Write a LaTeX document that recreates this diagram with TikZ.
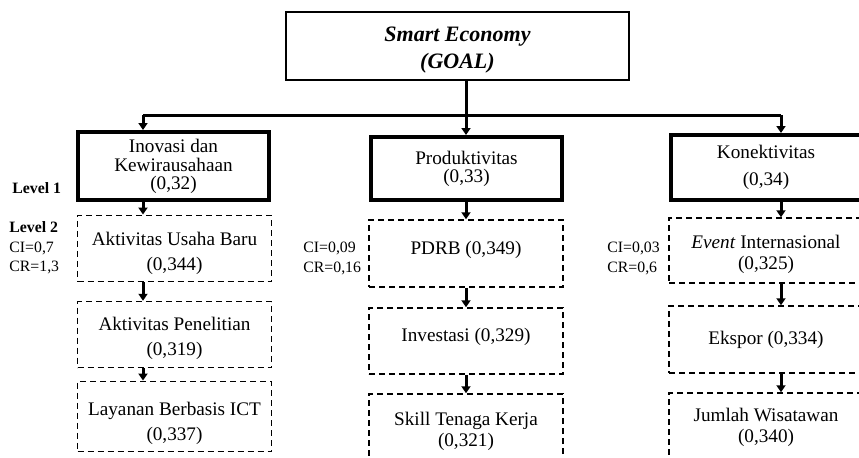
\documentclass[tikz,border=0pt]{standalone}
\usepackage{fontspec}
\setmainfont{Liberation Serif}
\usetikzlibrary{calc, positioning, arrows.meta}
\newcommand{\lift}[1]{\rule{0pt}{#1}}

\begin{document}
\begin{tikzpicture}[x=0.5pt, y=-0.5pt, font=\fontsize{9.6}{10.5}\selectfont,
	goal/.style={draw, line width=0.75pt, minimum width=171.5pt, minimum height=33pt, align=center,
		font=\fontsize{11}{13.5}\selectfont\bfseries\itshape},
	crit/.style={draw, line width=2pt, minimum width=95.5pt, minimum height=32.5pt, align=center, inner sep=1pt},
	sub/.style={draw, dash pattern=on 3pt off 2pt, line width=0.75pt, minimum width=97pt, minimum height=33pt, align=center},
	lvl/.style={anchor=west, inner sep=0pt, align=left, font=\fontsize{7.9}{9.5}\selectfont},
	l_1/.style={line width=1.5pt},
	l_a/.style={line width=1.5pt, -{Triangle[width=4.5pt,length=3.5pt]}}]
	\clip (0,0) rectangle (859,457);
	\useasboundingbox (0,0) rectangle (859,457);
	% goal and criteria
	\node[goal] (goal) at (457.5,46) {\lift{11.5pt}Smart Economy\\(GOAL)};
	\node[crit, minimum height=34pt] (inov) at (173.5,166) {Inovasi dan\\[-1pt] Kewirausahaan\\[-1.5pt] (0,32)};
	\node[crit, minimum height=31.5pt] (prod) at (466.5,168.5) {Produktivitas\\[-1.5pt] (0,33)};
	\node[crit] (kon) at (766,167.5) {Konektivitas\\[3pt] (0,34)};
	% sub criteria
	\node[sub] (aub) at (174.5,248.5) {\lift{12pt}Aktivitas Usaha Baru\\[2pt] (0,344)};
	\node[sub] (pen) at (174.5,334.5) {\lift{11pt}Aktivitas Penelitian\\[2pt] (0,319)};
	\node[sub, minimum height=33.5pt] (lay) at (174.5,416.5) {\lift{14pt}Layanan Berbasis ICT\\[2pt] (0,337)};
	\node[sub, minimum height=33.5pt, text depth=6pt] (pdrb) at (466,253.5) {PDRB (0,349)};
	\node[sub, text depth=6pt] (inv) at (466,341) {Investasi (0,329)};
	\node[sub] (skill) at (466,427) {\lift{11pt}Skill Tenaga Kerja\\ (0,321)};
	\node[sub, minimum height=32.5pt] (event) at (766,250.5) {\lift{10.5pt}\textit{Event} Internasional\\ (0,325)};
	\node[sub, minimum height=33.5pt] (eks) at (766,339.5) {Ekspor (0,334)};
	\node[sub] (jum) at (766,426) {\lift{8.5pt}Jumlah Wisatawan\\ (0,340)};
	% levels and consistency
	\node[lvl, font=\fontsize{7.9}{9.5}\selectfont\bfseries] (lv1) at (12,188) {Level 1};
	\node[lvl] (lv2) at (9,248) {\textbf{Level 2}\\[0.2pt] CI=0,7\\[0.2pt] CR=1,3};
	\node[lvl] (ciB) at (303,258) {CI=0,09\\[0.5pt] CR=0,16};
	\node[lvl] (ciC) at (607,258) {CI=0,03\\[0.5pt] CR=0,6};
	% connectors
	\coordinate (bar) at (466,115);
	\coordinate (cA) at (143,0);
	\coordinate (cB) at (466,0);
	\coordinate (cC) at (781,0);
	\draw[l_1] (goal.south -| bar) -- (bar);
	\draw[l_1] (bar -| cA) -- (bar -| cC);
	\foreach \c/\n in {cA/inov, cB/prod, cC/kon} {
		\draw[l_a] (bar -| \c) -- (\n.north -| \c);
	};
	\foreach \c/\a/\b in {cA/inov/aub, cA/aub/pen, cA/pen/lay, cB/prod/pdrb, cB/pdrb/inv, cB/inv/skill,
		cC/kon/event, cC/event/eks, cC/eks/jum} {
		\draw[l_a] (\a.south -| \c) -- (\b.north -| \c);
	};
\end{tikzpicture}
\end{document}
